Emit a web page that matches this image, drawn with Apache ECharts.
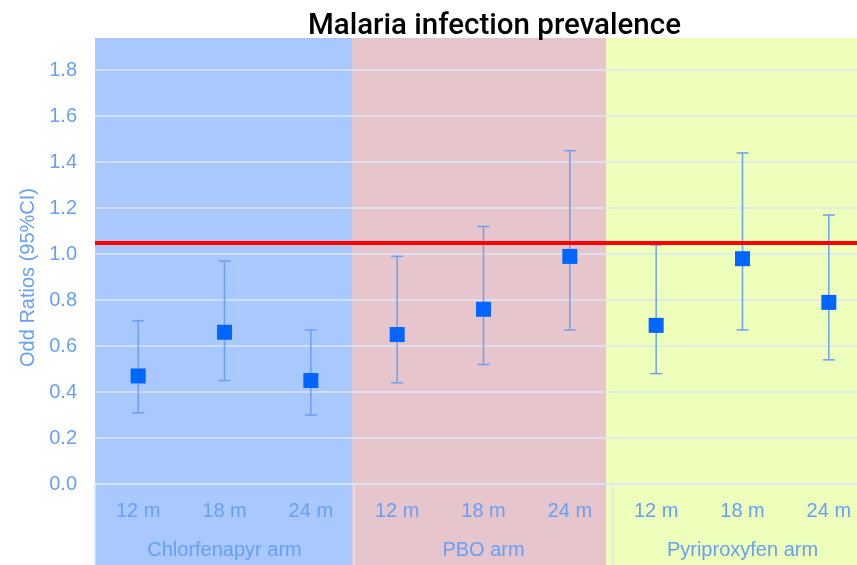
<!DOCTYPE html>
<html>
<head>
<meta charset="utf-8">
<script src="https://cdn.jsdelivr.net/npm/echarts@6/dist/echarts.min.js"></script>
<style>
  html, body { margin: 0; padding: 0; background: #fff; }
  #chart { width: 857px; height: 565px; }
</style>
</head>
<body>
<div id="chart"></div>
<script>
const months = ['12 m', '18 m', '24 m', '12 m', '18 m', '24 m', '12 m', '18 m', '24 m'];
const arms = ['Chlorfenapyr arm', 'PBO arm', 'Pyriproxyfen arm'];
const oddsRatio = [0.47, 0.66, 0.45, 0.65, 0.76, 0.99, 0.69, 0.98, 0.79];
const ciLower = [0.31, 0.45, 0.30, 0.44, 0.52, 0.67, 0.48, 0.67, 0.54];
const ciUpper = [0.71, 0.97, 0.67, 0.99, 1.12, 1.45, 1.04, 1.44, 1.17];
const referenceLine = 1.05;

const labelColor = '#67a0f4';
const lightLine = '#dce6f6';
const font = 'Liberation Sans, Arial, sans-serif';

// coloured panels behind each arm, in units of the category axis (0..9)
const panels = [
    [0, 2.977, '#a8c8fe'],
    [2.977, 5.919, '#e6c6cc'],
    [5.919, 9, '#eeffbb']
];

const chart = echarts.init(document.getElementById('chart'), null, { renderer: 'canvas' });

// the plot runs past the right edge of the picture (it was cropped)
const plotGrid = { left: 95, width: 777, top: 38, bottom: 81, outerBoundsMode: 'none' };

// gridline colours: last tick (the max) stays hidden
const splitColors = Array(10).fill(lightLine).concat(['rgba(0,0,0,0)']);

const option = {
    animation: false,
    title: {
        text: 'Malaria infection prevalence',
        left: 303,
        top: 7,
        textStyle: {
            fontFamily: 'Roboto, sans-serif',
            fontWeight: 500,
            fontSize: 29.5,
            color: '#000'
        }
    },
    grid: [
        Object.assign({}, plotGrid),
        { left: 95, width: 777, top: 38, bottom: 0, outerBoundsMode: 'none' },
        Object.assign({}, plotGrid)
    ],
    xAxis: [
        {
            type: 'category',
            gridIndex: 0,
            data: months,
            axisLine: { lineStyle: { color: lightLine, width: 1.5 } },
            axisTick: { show: false },
            axisLabel: { margin: 17, fontSize: 20, color: labelColor, fontFamily: font },
            z: 1
        },
        { type: 'value', gridIndex: 1, min: 0, max: 9, show: false },
        {
            type: 'category',
            gridIndex: 2,
            data: arms,
            axisLine: { show: false },
            axisTick: { show: true, interval: 0, length: 81, lineStyle: { color: lightLine, width: 1.5 } },
            axisLabel: { margin: 56, fontSize: 20, color: labelColor, fontFamily: font },
            z: 1
        }
    ],
    yAxis: [
        {
            type: 'value',
            gridIndex: 0,
            min: 0,
            max: 1.94,
            interval: 0.2,
            name: 'Odd Ratios (95%CI)',
            nameLocation: 'middle',
            nameGap: 56,
            nameTextStyle: { fontSize: 20, color: labelColor, fontFamily: font, padding: [0, 33, 0, 0] },
            axisLine: { show: false },
            axisTick: { show: false },
            axisLabel: {
                margin: 18, fontSize: 20, color: labelColor, fontFamily: font,
                showMaxLabel: false,
                formatter: (v) => v.toFixed(1)
            },
            splitLine: { lineStyle: { color: splitColors, width: 1.5 } },
            z: 1
        },
        { type: 'value', gridIndex: 1, min: 0, max: 1, show: false },
        { type: 'value', gridIndex: 2, min: 0, max: 1, show: false }
    ],
    series: [
        {
            type: 'custom',
            xAxisIndex: 1,
            yAxisIndex: 1,
            z: -1,
            silent: true,
            data: panels,
            renderItem: (params, api) => {
                const p0 = api.coord([api.value(0), 1]);
                const p1 = api.coord([api.value(1), 0]);
                return {
                    type: 'rect',
                    shape: { x: p0[0], y: p0[1], width: p1[0] - p0[0], height: p1[1] - p0[1] },
                    style: { fill: panels[params.dataIndex][2] }
                };
            }
        },
        {
            type: 'custom',
            xAxisIndex: 0,
            yAxisIndex: 0,
            z: 2,
            data: months.map((m, i) => [i, ciLower[i], ciUpper[i]]),
            renderItem: (params, api) => {
                const lo = api.coord([api.value(0), api.value(1)]);
                const hi = api.coord([api.value(0), api.value(2)]);
                const cap = 6;
                const style = { stroke: '#6e9ff2', lineWidth: 1.5 };
                return {
                    type: 'group',
                    children: [
                        { type: 'line', shape: { x1: lo[0], y1: lo[1], x2: hi[0], y2: hi[1] }, style },
                        { type: 'line', shape: { x1: lo[0] - cap, y1: lo[1], x2: lo[0] + cap, y2: lo[1] }, style },
                        { type: 'line', shape: { x1: hi[0] - cap, y1: hi[1], x2: hi[0] + cap, y2: hi[1] }, style }
                    ]
                };
            }
        },
        {
            type: 'scatter',
            xAxisIndex: 0,
            yAxisIndex: 0,
            z: 3,
            symbol: 'rect',
            symbolSize: 15,
            itemStyle: { color: '#0066ff', opacity: 1 },
            data: oddsRatio,
            markLine: {
                silent: true,
                symbol: 'none',
                label: { show: false },
                lineStyle: { color: '#ff0000', width: 4, type: 'solid', opacity: 1 },
                data: [{ yAxis: referenceLine }]
            }
        }
    ]
};

chart.setOption(option);
</script>
</body>
</html>
